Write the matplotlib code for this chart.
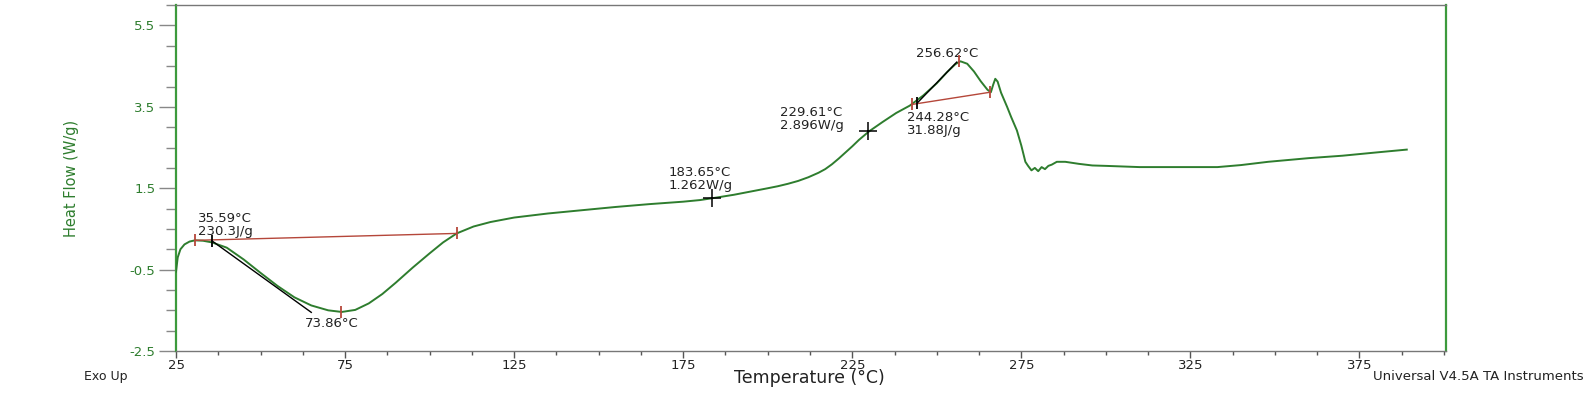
import numpy as np
import matplotlib.pyplot as plt
from matplotlib.ticker import MultipleLocator

# DSC curve
temp = [25, 25.5, 26.3, 27.5, 29, 30.6, 33, 35.6, 40, 45, 50, 55, 60, 65, 70, 74,
        78, 82, 86, 90, 95, 100, 104, 108, 113, 118, 125, 135, 145, 155, 165, 175,
        180, 184, 190, 195, 200, 203, 206, 209, 212, 215, 217, 219, 221, 223, 225,
        227, 230, 234, 238, 242, 246, 250, 253, 255.5, 257, 259, 261, 263, 265, 266,
        266.7, 267.3, 268, 269, 270.8, 272, 273.7, 275, 276.2, 277, 278, 279, 280,
        281, 282, 283, 284, 285.5, 288, 292, 296, 300, 310, 320, 333, 340, 348, 360,
        370, 380, 389]
heat_flow = [-0.55, -0.2, 0.0, 0.12, 0.19, 0.22, 0.21, 0.17, 0.04, -0.25, -0.58, -0.9,
             -1.18, -1.38, -1.50, -1.54, -1.49, -1.33, -1.1, -0.82, -0.45, -0.1, 0.17,
             0.39, 0.56, 0.67, 0.78, 0.88, 0.96, 1.04, 1.11, 1.17, 1.21, 1.26, 1.34,
             1.42, 1.50, 1.55, 1.61, 1.68, 1.77, 1.88, 1.97, 2.09, 2.23, 2.38, 2.53,
             2.69, 2.90, 3.13, 3.35, 3.53, 3.78, 4.08, 4.35, 4.55, 4.62, 4.56, 4.37,
             4.13, 3.92, 3.86, 4.05, 4.19, 4.12, 3.85, 3.50, 3.25, 2.92, 2.55, 2.15,
             2.05, 1.94, 2.00, 1.92, 2.02, 1.97, 2.05, 2.08, 2.15, 2.15, 2.10, 2.06,
             2.05, 2.02, 2.02, 2.02, 2.07, 2.15, 2.24, 2.30, 2.38, 2.45]

# integration baselines (start, end) and peak marks
base1_t = [30.6, 108]
base1_h = [0.22, 0.39]
tan1_t = [35.59, 65]
tan1_h = [0.21, -1.55]
peak1 = (73.86, -1.54)

base2_t = [242.7, 265.8]
base2_h = [3.56, 3.86]
tan2_t = [244.28, 255.9]
tan2_h = [3.60, 4.60]
peak2 = (256.62, 4.62)

crosses_t = [183.65, 229.61]
crosses_h = [1.262, 2.896]

green = '#2e7d2e'
spine_green = '#3c9a3c'
red = '#b5473a'
txt = '#222222'

plt.rcParams['font.family'] = 'DejaVu Sans'
plt.rcParams['axes.unicode_minus'] = False
fig = plt.figure(figsize=(15.93, 3.96), dpi=100)
ax = fig.add_axes([0.1105, 0.1136, 0.797, 0.8734])

ax.plot(temp, heat_flow, color=green, lw=1.4, zorder=3)

ax.plot(base1_t, base1_h, color=red, lw=1.0, zorder=4)
ax.plot(base2_t, base2_h, color=red, lw=1.0, zorder=4)
ax.plot(tan1_t, tan1_h, color='black', lw=1.0, zorder=4)
ax.plot(tan2_t, tan2_h, color='black', lw=1.0, zorder=4)
ax.plot(base1_t + [peak1[0]], base1_h + [peak1[1]], ls='none', marker='|',
        ms=8, mew=1.3, color=red, zorder=5)
ax.plot(base2_t + [peak2[0]], base2_h + [peak2[1]], ls='none', marker='|',
        ms=8, mew=1.3, color=red, zorder=5)
ax.plot([tan1_t[0], tan2_t[0]], [tan1_h[0], tan2_h[0]], ls='none', marker='|',
        ms=8, mew=1.3, color='black', zorder=5)
ax.plot(crosses_t, crosses_h, ls='none', marker='+', ms=13, mew=1.1,
        color='black', zorder=5)

fs = 9.5
kw = dict(fontsize=fs, color=txt, linespacing=1.0, va='top', ha='left')
ax.text(31.5, 0.92, '35.59°C\n230.3J/g', **kw)
ax.text(63.2, -1.66, '73.86°C', **kw)
ax.text(170.6, 2.05, '183.65°C\n1.262W/g', **kw)
ax.text(203.7, 3.52, '229.61°C\n2.896W/g', **kw)
ax.text(241.2, 3.40, '244.28°C\n31.88J/g', **kw)
ax.text(243.9, 4.98, '256.62°C', **kw)

ax.set_xlim(25, 400.5)
ax.set_ylim(-2.5, 6.0)
ax.set_xticks([25, 75, 125, 175, 225, 275, 325, 375])
ax.set_yticks([-2.5, -0.5, 1.5, 3.5, 5.5])
ax.xaxis.set_minor_locator(MultipleLocator(12.5))
ax.yaxis.set_minor_locator(MultipleLocator(0.5))
ax.tick_params(axis='y', which='major', length=12, width=1, color='#888888',
               labelcolor=green, labelsize=fs, pad=3)
ax.tick_params(axis='y', which='minor', length=7, width=1, color='#888888')
ax.tick_params(axis='x', which='major', length=5, width=1, color='#555555',
               labelcolor=txt, labelsize=fs, pad=1)
ax.tick_params(axis='x', which='minor', length=3, width=1, color='#555555')

for s in ['left', 'right']:
    ax.spines[s].set_color(spine_green)
    ax.spines[s].set_linewidth(1.6)
for s in ['top', 'bottom']:
    ax.spines[s].set_color('#777777')
    ax.spines[s].set_linewidth(1.0)

ax.set_ylabel('Heat Flow (W/g)', color=green, fontsize=10.5, labelpad=36)
fig.text(0.508, 0.045, 'Temperature (°C)', fontsize=12.5, color=txt,
         ha='center', va='center')
fig.text(0.053, 0.05, 'Exo Up', fontsize=9, color=txt, ha='left', va='center')
fig.text(0.994, 0.05, 'Universal V4.5A TA Instruments', fontsize=9.5,
         color=txt, ha='right', va='center')

fig.savefig('out.png', dpi=100)
